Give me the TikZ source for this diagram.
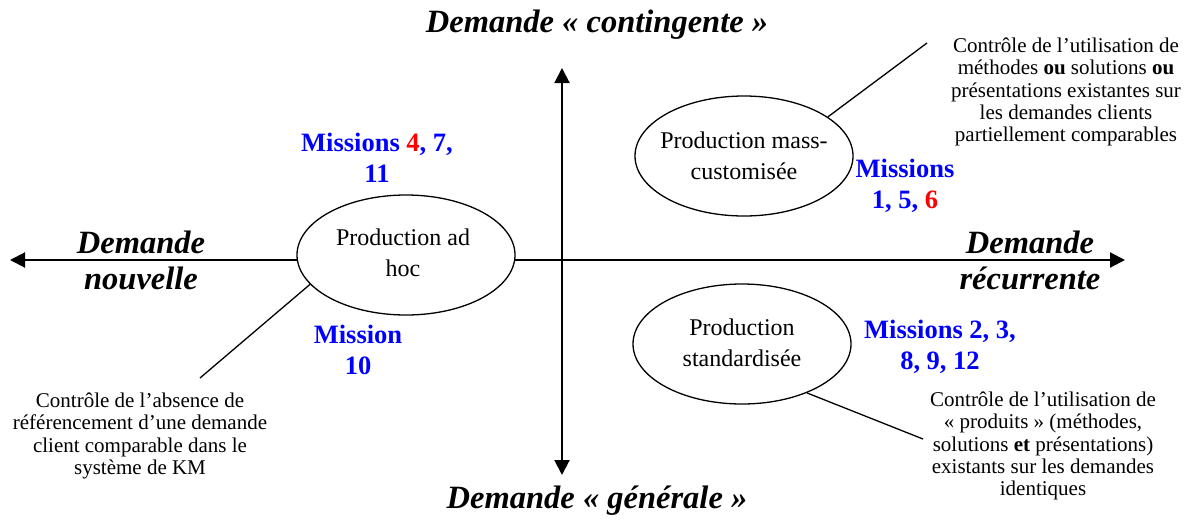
\documentclass[tikz,border=0pt]{standalone}
\usepackage{fontspec}
\setmainfont{Liberation Serif}
\usetikzlibrary{shapes.geometric,arrows.meta}
\definecolor{mblue}{RGB}{0,0,255}
\definecolor{mred}{RGB}{255,0,0}
\tikzset{
  axis/.style={line width=2pt,{Triangle[length=15pt,width=15pt]}-{Triangle[length=15pt,width=15pt]}},
  prod/.style={ellipse,draw,line width=1.3pt,fill=white,minimum width=218pt,minimum height=120pt,inner sep=0pt},
  prodtext/.style={align=center,font=\fontsize{24}{31}\selectfont,inner sep=0pt},
  axlabel/.style={align=center,font=\fontsize{32.5}{36}\selectfont\bfseries\itshape,inner sep=0pt},
  mission/.style={align=center,font=\fontsize{26.5}{31}\selectfont\bfseries,text=mblue,inner sep=0pt},
  note/.style={align=center,font=\fontsize{21}{22.3}\selectfont,inner sep=0pt},
  link/.style={line width=1.3pt}
}
\begin{document}
\begin{tikzpicture}[x=1pt,y=-1pt]
\useasboundingbox (0,0) rectangle (1190,520);
\coordinate (W) at (10,260);
\coordinate (E) at (1125,260);
\coordinate (N) at (562,68);
\coordinate (S) at (562,475);
\draw[axis] (W) -- (E);
\draw[axis] (N) -- (S);

\node[prod] (adhoc) at (406,255) {};
\node[prodtext] at (403,253) {Production ad\\hoc};
\node[prod] (mass) at (744,156) {};
\node[prodtext] at (744,156) {Production mass-\\customisée};
\node[prod] (std) at (742,344) {};
\node[prodtext] at (742,343) {Production\\standardisée};

\node[axlabel] (top) at (597,25) {Demande~« contingente~»};
\node[axlabel] (bot) at (597,501) {Demande~« générale~»};
\node[axlabel] (left) at (141,260) {Demande\\nouvelle};
\node[axlabel] (right) at (1030,260) {Demande\\récurrente};

\node[mission] (m1) at (377,158) {Missions {\color{mred}4}, 7,\\11};
\node[mission] (m2) at (905,186) {Missions\\1, 5, {\color{mred}6}};
\node[mission] (m3) at (940,347) {Missions 2, 3,\\8, 9, 12};
\node[mission] (m4) at (358,350) {Mission\\10};

\node[note] (n1) at (1066,92) {Contrôle de l’utilisation de\\méthodes \textbf{ou} solutions \textbf{ou}\\présentations existantes sur\\les demandes clients\\partiellement comparables};
\node[note] (n2) at (140,436) {Contrôle de l’absence de\\référencement d’une demande\\client comparable dans le\\système de KM};
\node[note] (n3) at (1043,446) {Contrôle de l’utilisation de\\« produits » (méthodes,\\solutions \textbf{et} présentations)\\existants sur les demandes\\identiques};

\coordinate (c1) at (927,43);
\coordinate (c2) at (200,378);
\coordinate (c3) at (923,439);
\draw[link] (mass.25) -- (c1);
\draw[link] (adhoc.197) -- (c2);
\draw[link] (std.323) -- (c3);
\end{tikzpicture}
\end{document}
